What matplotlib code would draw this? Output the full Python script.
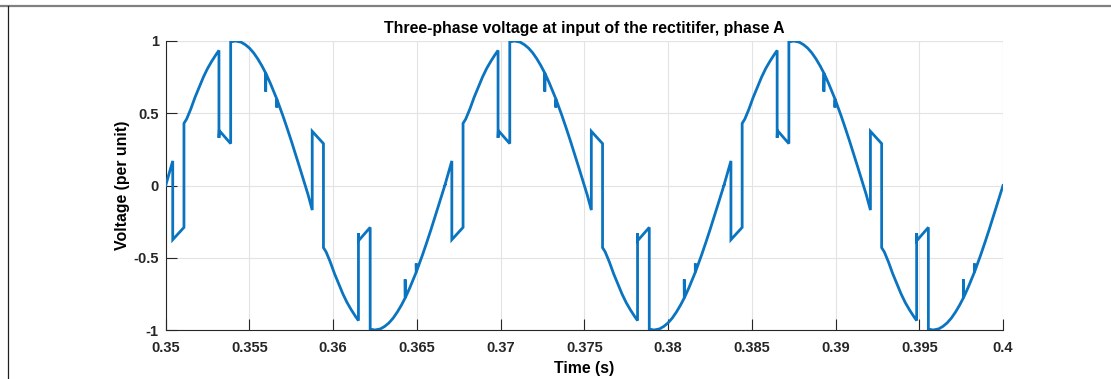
import matplotlib
matplotlib.use("Agg")
import matplotlib.pyplot as plt
from matplotlib.lines import Line2D
import numpy as np

# One period (60 Hz) of the phase-A waveform: time offset in ms, value in per unit
period_ms = [
    0.00, 0.42, 0.42, 1.09, 1.09, 1.25, 1.50, 1.75, 2.00, 2.25, 2.50, 2.75, 3.00, 3.18,
    3.18, 3.20, 3.88, 3.88, 4.17, 4.50, 4.75, 5.00, 5.25, 5.50, 5.75, 5.97, 5.97, 5.98,
    6.25, 6.50, 6.63, 6.63, 6.64, 6.75, 7.00, 7.25, 7.50, 7.75, 8.00, 8.33, 8.50,
    8.75, 8.75, 9.42, 9.42, 9.58, 9.83, 10.08, 10.33, 10.58, 10.83, 11.08, 11.33, 11.51,
    11.51, 11.53, 12.21, 12.21, 12.50, 12.83, 13.08, 13.33, 13.58, 13.83, 14.08, 14.30,
    14.30, 14.31, 14.58, 14.83, 14.96, 14.96, 14.97, 15.08, 15.33, 15.58, 15.83, 16.08,
    16.33, 16.667,
]
period_val = [
    0.00, 0.17, -0.375, -0.29, 0.43, 0.46, 0.53, 0.61, 0.68, 0.75, 0.81, 0.86, 0.905, 0.935,
    0.33, 0.38, 0.29, 0.994, 1.00, 0.992, 0.975, 0.951, 0.918, 0.876, 0.827, 0.778, 0.65, 0.776,
    0.707, 0.637, 0.60, 0.54, 0.597, 0.562, 0.482, 0.397, 0.309, 0.218, 0.125, 0.00, -0.063,
    -0.17, 0.375, 0.29, -0.43, -0.46, -0.53, -0.61, -0.68, -0.75, -0.81, -0.86, -0.905, -0.935,
    -0.33, -0.38, -0.29, -0.994, -1.00, -0.992, -0.975, -0.951, -0.918, -0.876, -0.827, -0.778,
    -0.65, -0.776, -0.707, -0.637, -0.60, -0.54, -0.597, -0.562, -0.482, -0.397, -0.309, -0.218,
    -0.125, 0.00,
]
period_starts = [0.35, 0.35 + 1 / 60, 0.35 + 2 / 60]

xticks = [0.35, 0.355, 0.36, 0.365, 0.37, 0.375, 0.38, 0.385, 0.39, 0.395, 0.4]
xtick_labels = ["0.35", "0.355", "0.36", "0.365", "0.37", "0.375", "0.38", "0.385", "0.39", "0.395", "0.4"]
yticks = [-1, -0.5, 0, 0.5, 1]
ytick_labels = ["-1", "-0.5", "0", "0.5", "1"]

title = "Three-phase voltage at input of the rectitifer, phase A"
xlabel = "Time (s)"
ylabel = "Voltage (per unit)"

t = []
v = []
for s in period_starts:
    t.extend([s + m / 1000 for m in period_ms])
    v.extend(period_val)

plt.rcParams['font.family'] = ['Liberation Sans', 'DejaVu Sans']
W, H = 1111, 379
fig = plt.figure(figsize=(W / 100, H / 100), dpi=100)
ax = fig.add_axes([165.7 / W, 1 - 330 / H, (1003 - 165.7) / W, (330 - 41) / H])

ax.plot(t, v, color="#0a74c0", lw=2.0, solid_joinstyle="miter", zorder=3)
ax.set_xlim(0.35, 0.4)
ax.set_ylim(-1, 1)
ax.set_xticks(xticks)
ax.set_xticklabels(xtick_labels, fontsize=10.5, fontweight="bold", color="#262626")
ax.set_yticks(yticks)
ax.set_yticklabels(ytick_labels, fontsize=10.5, fontweight="bold", color="#262626")
ax.tick_params(direction="in", length=8, width=0.8, color="#262626")
ax.tick_params(axis="x", pad=8)
ax.tick_params(axis="y", pad=5)
ax.grid(True, color="#e3e3e3", lw=0.8)
ax.set_axisbelow(True)
for side in ["top", "right"]:
    ax.spines[side].set_visible(False)
for side in ["left", "bottom"]:
    ax.spines[side].set_color("#262626")
    ax.spines[side].set_linewidth(0.8)
# top and right box edges drawn as light grid-like lines
ax.axhline(1, color="#e3e3e3", lw=0.8, zorder=0)
ax.axvline(0.4, color="#e3e3e3", lw=0.8, zorder=0)

ax.set_title(title, fontsize=11.4, fontweight="bold", pad=6)
ax.set_xlabel(xlabel, fontsize=11.4, fontweight="bold", labelpad=4)
ax.set_ylabel(ylabel, fontsize=11.4, fontweight="bold", labelpad=2)

# image frame lines (top and left)
fig.add_artist(Line2D([0, 1], [1 - 5.5 / H, 1 - 5.5 / H], transform=fig.transFigure, color="#808080", lw=1.6))
fig.add_artist(Line2D([8 / W, 8 / W], [0, 1 - 5.5 / H], transform=fig.transFigure, color="#202020", lw=0.9))

fig.savefig("out.png", dpi=100)
